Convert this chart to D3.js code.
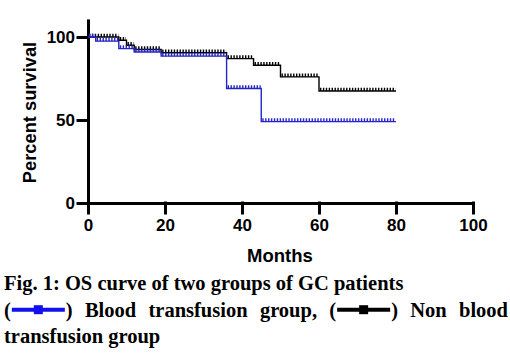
<!DOCTYPE html>
<html>
<head>
<meta charset="utf-8">
<script src="https://cdn.jsdelivr.net/npm/d3@7"></script>
<style>
  html, body { margin: 0; padding: 0; background: #fff; }
  svg { display: block; }
</style>
</head>
<body>
<svg id="chart" width="510" height="353"></svg>
<script>
// survival data (months, percent)
const bloodMonths = [0, 2, 8, 12, 19, 36, 45, 80];
const bloodSurvival = [100, 97.5, 93, 91, 88.5, 69, 49, 49];
const nonBloodMonths = [0, 8, 10, 12, 19, 36, 43, 50, 60, 80];
const nonBloodSurvival = [100, 98, 95, 92.5, 90.5, 87, 83, 76, 67.5, 67.5];

const seriesNames = ['Blood transfusion group', 'Non blood transfusion group'];
const seriesColors = ['#2424c8', '#000000'];
const legendColors = ['#1010f0', '#000000'];
const xTicks = [0, 20, 40, 60, 80, 100];
const yTicks = [0, 50, 100];
const captionTitle = 'Fig. 1: OS curve of two groups of GC patients';

const AXIS_FONT = '"Liberation Sans", Arial, sans-serif';
const CAPTION_FONT = '"Liberation Serif", "Times New Roman", serif';

const svg = d3.select('#chart');

const x = d3.scaleLinear().domain([0, 100]).range([88, 473]);
const y = d3.scaleLinear().domain([0, 110]).range([203, 20.4]);

// axes
const yAxis = svg.append('g').attr('transform', `translate(${x(0)},0)`)
    .call(d3.axisLeft(y).tickValues(yTicks).tickSizeInner(10).tickSizeOuter(0).tickPadding(3));
const xAxis = svg.append('g').attr('transform', `translate(0,${y(0)})`)
    .call(d3.axisBottom(x).tickValues(xTicks).tickSizeInner(10).tickSizeOuter(0).tickPadding(6));

[xAxis, yAxis].forEach((g) => {
    g.selectAll('path.domain, line').attr('stroke', '#000').attr('stroke-width', 3).attr('stroke-linecap', 'square');
    g.selectAll('text').attr('fill', '#000').style('font-family', AXIS_FONT)
        .style('font-weight', 'bold').style('font-size', '17px');
});

// axis titles
svg.append('text').attr('x', 280).attr('y', 262).attr('text-anchor', 'middle')
    .style('font-family', AXIS_FONT).style('font-weight', 'bold').style('font-size', '18.5px')
    .text('Months');
svg.append('text').attr('transform', 'translate(36,112.5) rotate(-90)').attr('text-anchor', 'middle')
    .style('font-family', AXIS_FONT).style('font-weight', 'bold').style('font-size', '18.3px')
    .text('Percent survival');

// survival curves
const series = [
    { months: bloodMonths, surv: bloodSurvival },
    { months: nonBloodMonths, surv: nonBloodSurvival },
];

const stepLine = d3.line().x((d) => x(d[0])).y((d) => y(d[1])).curve(d3.curveStepAfter);

// draw non blood first so blue sits on top like the reference
[1, 0].forEach((i) => {
    const s = series[i];
    const pts = s.months.map((m, k) => [m, s.surv[k]]);
    const g = svg.append('g');
    g.append('path').attr('d', stepLine(pts)).attr('fill', 'none')
        .attr('stroke', seriesColors[i]).attr('stroke-width', 1.4);
    // censor tick comb on each flat part
    const segs = d3.pairs(pts);
    g.selectAll('line.censor').data(segs).enter().append('line')
        .attr('x1', (d) => x(d[0][0]) + 1)
        .attr('x2', (d) => x(d[1][0]) - 0.5)
        .attr('y1', (d) => y(d[0][1]) - 1.6)
        .attr('y2', (d) => y(d[0][1]) - 1.6)
        .attr('stroke', seriesColors[i]).attr('stroke-width', 3.4)
        .attr('stroke-dasharray', '1.4,1.5');
});

// caption
const cap = svg.append('g').style('font-family', CAPTION_FONT).style('font-weight', 'bold')
    .style('font-size', '20.5px').attr('fill', '#000');
cap.append('text').attr('x', 4).attr('y', 290).text(captionTitle);

// justified legend line: (sym) Blood transfusion group, (sym) Non blood
const LEFT = 4, RIGHT = 508, BASE2 = 316.5, SYM_W = 55;
const firstWords = seriesNames[0].split(' ');
firstWords[firstWords.length - 1] += ',';
const secondWords = seriesNames[1].split(' ');
const line2Words = secondWords.slice(0, 2);
const tokens = [{ sym: 0 }, ...firstWords.map((w) => ({ word: w })), { sym: 1 }, ...line2Words.map((w) => ({ word: w }))];

const measure = cap.append('text').attr('x', -999).attr('y', -999);
function textW(s) { measure.text(s); return measure.node().getComputedTextLength(); }
const parenW = textW('(');
const closeW = textW(')');
tokens.forEach((t) => { t.w = t.word ? textW(t.word) : parenW + SYM_W + closeW; });
measure.remove();

const gap = (RIGHT - LEFT - d3.sum(tokens, (t) => t.w)) / (tokens.length - 1);
let cx = LEFT;
tokens.forEach((t) => {
    if (t.word) {
        cap.append('text').attr('x', cx).attr('y', BASE2).text(t.word);
    } else {
        cap.append('text').attr('x', cx).attr('y', BASE2).text('(');
        const lx0 = cx + parenW, lx1 = lx0 + SYM_W, ly = BASE2 - 6.8;
        cap.append('line').attr('x1', lx0 + 1).attr('x2', lx1 - 1).attr('y1', ly).attr('y2', ly)
            .attr('stroke', legendColors[t.sym]).attr('stroke-width', 4);
        cap.append('rect').attr('x', (lx0 + lx1) / 2 - 4.5).attr('y', ly - 4.5).attr('width', 9).attr('height', 9)
            .attr('fill', legendColors[t.sym]);
        cap.append('text').attr('x', lx1).attr('y', BASE2).text(')');
    }
    cx += t.w + gap;
});

cap.append('text').attr('x', 4).attr('y', 343).text(secondWords.slice(2).join(' '));
</script>
</body>
</html>
